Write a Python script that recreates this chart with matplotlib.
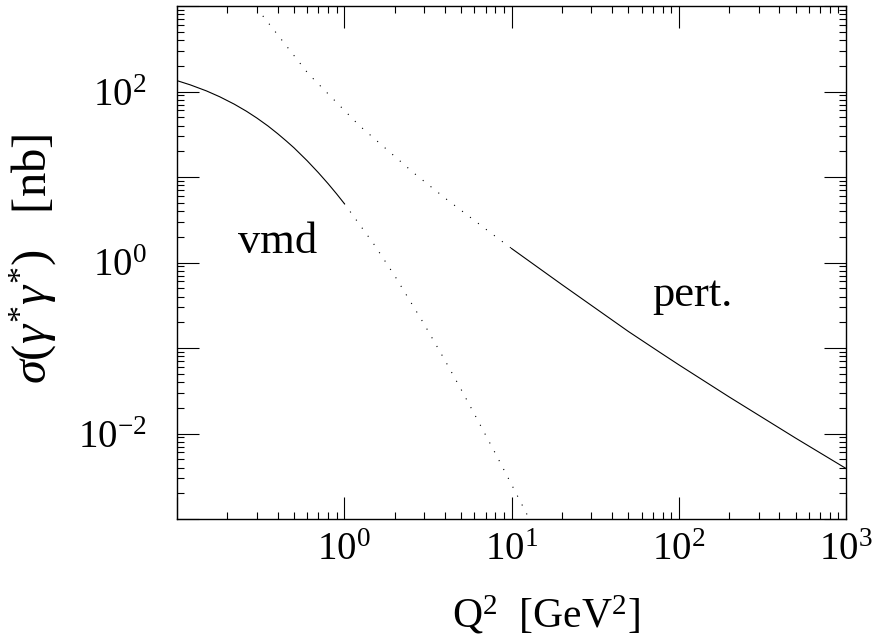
import matplotlib
matplotlib.use("Agg")
import matplotlib.pyplot as plt
from matplotlib.ticker import LogLocator, NullFormatter

plt.rcParams['font.family'] = ['Liberation Serif', 'DejaVu Serif']
plt.rcParams['mathtext.fontset'] = 'custom'
plt.rcParams['mathtext.rm'] = 'Liberation Serif'
plt.rcParams['mathtext.it'] = 'Liberation Serif:italic'

# vmd curve, solid part (Q^2 in GeV^2, sigma in nb)
q2_vmd = [0.1, 0.12, 0.15, 0.18, 0.22, 0.26, 0.3, 0.35, 0.4, 0.45, 0.5, 0.6, 0.7, 0.8, 0.9, 1.0]
sig_vmd = [134, 119.6, 101.6, 86.8, 71.1, 58.8, 49.0, 39.5, 32.1, 26.4, 22.0, 15.5, 11.25, 8.37, 6.35, 4.9]

# vmd curve, dotted continuation
q2_vmd_ext = [1.0, 1.5, 2.0, 3.0, 4.0, 5.0, 6.0, 8.0, 10.0, 12.5]
sig_vmd_ext = [4.9, 1.65, 0.703, 0.191, 0.0718, 0.0327, 0.0169, 0.00588, 0.00254, 0.00109]

# perturbative curve, dotted below Q^2 = 10
q2_pert_ext = [0.326, 0.607, 1.225, 2.61, 4.06, 7.21, 10.0]
sig_pert_ext = [766, 163, 40.3, 11.1, 5.55, 2.36, 1.46]

# perturbative curve, solid part
q2_pert = [10.0, 20.0, 50.0, 77.0, 100.0, 200.0, 500.0, 1000.0]
sig_pert = [1.46, 0.552, 0.156, 0.0891, 0.0637, 0.0268, 0.00883, 0.0039]

fig = plt.figure(figsize=(8.81, 6.41), dpi=100)
ax = fig.add_axes([177 / 881, 1 - 519 / 641, (846 - 177) / 881, (519 - 6) / 641])

ax.plot(q2_vmd, sig_vmd, color='black', lw=0.8)
ax.plot(q2_vmd_ext, sig_vmd_ext, color='black', lw=0.8, dashes=[1, 8])
ax.plot(q2_pert_ext, sig_pert_ext, color='black', lw=0.8, dashes=[1, 8])
ax.plot(q2_pert, sig_pert, color='black', lw=0.8)

ax.set_xscale('log')
ax.set_yscale('log')
ax.set_xlim(0.1, 1000)
ax.set_ylim(1e-3, 1e3)

ax.xaxis.set_major_locator(LogLocator(base=10, numticks=10))
ax.yaxis.set_major_locator(LogLocator(base=10, subs=(1.0,), numticks=10))
ax.xaxis.set_minor_locator(LogLocator(base=10, subs=range(2, 10), numticks=20))
ax.yaxis.set_minor_locator(LogLocator(base=10, subs=range(2, 10), numticks=20))
ax.xaxis.set_minor_formatter(NullFormatter())
ax.yaxis.set_minor_formatter(NullFormatter())

# only every other decade labelled on y
ylabels = {1e2: r'$\mathdefault{10^{2}}$', 1e0: r'$\mathdefault{10^{0}}$', 1e-2: r'$\mathdefault{10^{-2}}$'}
ax.yaxis.set_major_formatter(plt.FuncFormatter(lambda v, p: ylabels.get(round(v, 6) if v < 1 else round(v), '')))
xlabels = {1: r'$\mathdefault{10^{0}}$', 10: r'$\mathdefault{10^{1}}$', 100: r'$\mathdefault{10^{2}}$', 1000: r'$\mathdefault{10^{3}}$'}
ax.xaxis.set_major_formatter(plt.FuncFormatter(lambda v, p: xlabels.get(round(v), '') if v >= 1 else ''))

ax.tick_params(which='both', direction='in', top=True, right=True, colors='black')
ax.tick_params(which='major', length=16, width=0.8, labelsize=28)
ax.tick_params(which='minor', length=5, width=0.8)
ax.tick_params(axis='y', which='major', pad=22)
ax.tick_params(axis='x', which='major', pad=9)
for s in ax.spines.values():
    s.set_linewidth(1.0)

ax.text(0.399, 1.30, 'vmd', fontsize=32, ha='center', va='baseline')
ax.text(120.5, 0.31, 'pert.', fontsize=32, ha='center', va='baseline')

fig.text(546 / 881, 1 - 627 / 641, r'Q$^{\mathrm{2}}$  [GeV$^{\mathrm{2}}$]', fontsize=30,
         ha='center', va='baseline')
fig.text(33 / 881, 1 - 259 / 641, r'$\sigma(\gamma^{*}\gamma^{*})$   [nb]', fontsize=35,
         ha='center', va='center', rotation=90)

fig.savefig('out.png', dpi=100)
